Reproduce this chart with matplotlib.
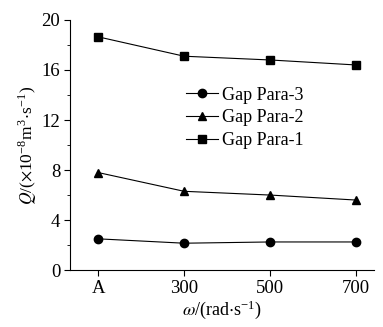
import matplotlib
matplotlib.use("Agg")
import matplotlib.pyplot as plt
from matplotlib.ticker import MultipleLocator

plt.rcParams['font.family'] = ['Liberation Serif', 'DejaVu Serif']
plt.rcParams['mathtext.fontset'] = 'stix'

cats = ['A', '300', '500', '700']
para1 = [18.65, 17.1, 16.8, 16.4]
para2 = [7.8, 6.3, 6.0, 5.6]
para3 = [2.5, 2.15, 2.25, 2.25]

fig = plt.figure(figsize=(3.83, 3.27), dpi=100)
ax = fig.add_axes([0.183, 0.174, 0.794, 0.765])
x = range(len(cats))
ax.plot(x, para3, color='k', marker='o', ms=6, lw=0.8, label='Gap Para-3')
ax.plot(x, para2, color='k', marker='^', ms=6, lw=0.8, label='Gap Para-2')
ax.plot(x, para1, color='k', marker='s', ms=6, lw=0.8, label='Gap Para-1')

ax.set_xlim(-0.326, 3.21)
ax.set_ylim(0, 20)
ax.set_xticks(list(x))
ax.set_xticklabels(cats)
ax.yaxis.set_major_locator(MultipleLocator(4))
ax.yaxis.set_minor_locator(MultipleLocator(2))
ax.spines['top'].set_visible(False)
ax.spines['right'].set_visible(False)
ax.tick_params(labelsize=13.5, direction='out', length=4, pad=3)
ax.tick_params(which='minor', length=2.5)

ax.set_xlabel(r'$\omega$/(rad$\cdot$s$^{\mathregular{-1}}$)', fontsize=13, labelpad=1)
ax.set_ylabel(r'$Q$/($\times$10$^{\mathregular{-8}}$m$^{\mathregular{3}}$$\cdot$s$^{\mathregular{-1}}$)', fontsize=12.5, labelpad=2)

ax.legend(loc='upper left', bbox_to_anchor=(0.352, 0.77), frameon=False, fontsize=13,
          handlelength=1.75, handletextpad=0.25, labelspacing=0.32, borderpad=0)

fig.savefig('out.png', dpi=100)
